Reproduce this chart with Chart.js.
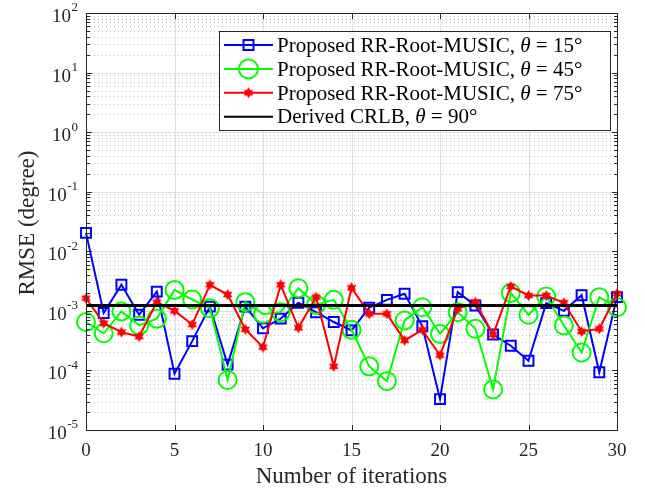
<!DOCTYPE html>
<html><head><meta charset="utf-8">
<script src="https://cdn.jsdelivr.net/npm/chart.js@4/dist/chart.umd.min.js"></script>
<style>html,body{margin:0;padding:0;background:#fff}canvas{display:block}</style>
</head><body>
<canvas id="c" width="645" height="493"></canvas>
<script>
// ---------- data ----------
const iterations = [0,1,2,3,4,5,6,7,8,9,10,11,12,13,14,15,16,17,18,19,20,21,22,23,24,25,26,27,28,29,30];
const rmse15 = [2.04e-2, 9.2e-4, 2.74e-3, 8.6e-4, 2.1e-3, 8.8e-5, 3.1e-4, 1.18e-3, 1.25e-4, 1.18e-3, 5.1e-4,
                7.4e-4, 1.37e-3, 9.5e-4, 6.5e-4, 4.7e-4, 1.13e-3, 1.53e-3, 1.94e-3, 5.5e-4, 3.3e-5,
                2.06e-3, 1.23e-3, 4.0e-4, 2.6e-4, 1.45e-4, 1.35e-3, 1.0e-3, 1.83e-3, 9.3e-5, 1.7e-3];
const rmse45 = [6.5e-4, 4.2e-4, 9.8e-4, 5.7e-4, 7.4e-4, 2.25e-3, 1.55e-3, 1.11e-3, 6.9e-5, 1.4e-3, 8.9e-4,
                9.5e-4, 2.4e-3, 1.27e-3, 1.53e-3, 4.8e-4, 1.17e-4, 6.6e-5, 6.9e-4, 1.15e-3, 4.1e-4,
                9.5e-4, 5.0e-4, 4.8e-5, 2.0e-3, 8.6e-4, 1.74e-3, 5.7e-4, 2.0e-4, 1.7e-3, 1.15e-3];
const rmse75 = [1.63e-3, 6.2e-4, 4.4e-4, 3.7e-4, 1.4e-3, 1.0e-3, 5.9e-4, 2.74e-3, 1.88e-3, 4.9e-4, 2.46e-4,
                2.74e-3, 5.2e-4, 1.7e-3, 1.17e-4, 2.44e-3, 8.9e-4, 8.9e-4, 3.2e-4, 4.8e-4, 1.8e-4,
                1.08e-3, 1.4e-3, 4.0e-4, 2.57e-3, 1.81e-3, 1.81e-3, 1.37e-3, 4.5e-4, 5.0e-4, 1.94e-3];
const crlb90 = [1.23e-3, 1.23e-3, 1.23e-3, 1.23e-3, 1.23e-3, 1.23e-3, 1.23e-3, 1.23e-3, 1.23e-3, 1.23e-3, 1.23e-3,
                1.23e-3, 1.23e-3, 1.23e-3, 1.23e-3, 1.23e-3, 1.23e-3, 1.23e-3, 1.23e-3, 1.23e-3, 1.23e-3,
                1.23e-3, 1.23e-3, 1.23e-3, 1.23e-3, 1.23e-3, 1.23e-3, 1.23e-3, 1.23e-3, 1.23e-3, 1.23e-3];
const seriesNames = ['Proposed RR-Root-MUSIC', 'Proposed RR-Root-MUSIC', 'Proposed RR-Root-MUSIC', 'Derived CRLB'];
const seriesAngles = ['15°', '45°', '75°', '90°'];
const xTickValues = [0, 5, 10, 15, 20, 25, 30];
const yTickExponents = [-5, -4, -3, -2, -1, 0, 1, 2];
const xTitle = 'Number of iterations';
const yTitle = 'RMSE (degree)';

// ---------- styling ----------
const FONT = '"Liberation Serif", "Times New Roman", serif';
const AXIS = '#262626';

function hexagram(r, color) {
  const s = Math.ceil(r * 2 + 2);
  const c = document.createElement('canvas');
  c.width = s; c.height = s;
  const g = c.getContext('2d');
  g.fillStyle = color;
  g.beginPath();
  for (let i = 0; i < 12; i++) {
    const a = -Math.PI / 2 + i * Math.PI / 6;
    const rr = (i % 2) ? r * 0.58 : r;
    g.lineTo(s / 2 + rr * Math.cos(a), s / 2 + rr * Math.sin(a));
  }
  g.closePath();
  g.fill();
  return c;
}
const redStar = hexagram(5.5, '#ff0000');

function pts(vals) { return iterations.map((x, i) => ({ x: x, y: vals[i] })); }

const datasets = [
  { data: pts(rmse15), borderColor: '#0000ff', borderWidth: 2, pointStyle: 'rect', pointRadius: 7,
    pointBorderWidth: 2, pointBorderColor: '#0000ff', pointBackgroundColor: 'rgba(0,0,0,0)', order: 4 },
  { data: pts(rmse45), borderColor: '#00ff00', borderWidth: 2, pointStyle: 'circle', pointRadius: 9,
    pointBorderWidth: 2, pointBorderColor: '#00ff00', pointBackgroundColor: 'rgba(0,0,0,0)', order: 3 },
  { data: pts(rmse75), borderColor: '#ff0000', borderWidth: 2, pointStyle: redStar, pointRadius: 6,
    pointBorderWidth: 0, pointBackgroundColor: '#ff0000', order: 2 },
  { data: pts(crlb90), borderColor: '#000000', borderWidth: 3, pointRadius: 0, order: 1 }
];
datasets.forEach((d, i) => {
  d.label = seriesNames[i] + ', θ = ' + seriesAngles[i];
  d.fill = false; d.tension = 0; d.clip = false; d.pointHoverRadius = d.pointRadius;
});

function line(ctx, x1, y1, x2, y2) { ctx.beginPath(); ctx.moveTo(x1, y1); ctx.lineTo(x2, y2); ctx.stroke(); }

const matlabAxes = {
  id: 'matlabAxes',
  beforeDatasetsDraw(chart) {
    const { ctx, chartArea: a, scales: { x, y } } = chart;
    ctx.save();
    ctx.lineWidth = 1;
    // minor dotted grid
    ctx.strokeStyle = '#c2c2c2';
    ctx.setLineDash([1, 3]);
    for (let e = yTickExponents[0]; e < yTickExponents[yTickExponents.length - 1]; e++) {
      for (let k = 2; k <= 9; k++) {
        const py = Math.round(y.getPixelForValue(k * Math.pow(10, e))) + 0.5;
        line(ctx, a.left, py, a.right, py);
      }
    }
    // major grid
    ctx.setLineDash([]);
    ctx.strokeStyle = '#dfdfdf';
    yTickExponents.forEach(e => {
      const py = Math.round(y.getPixelForValue(Math.pow(10, e))) + 0.5;
      line(ctx, a.left, py, a.right, py);
    });
    xTickValues.forEach(v => {
      const px = Math.round(x.getPixelForValue(v)) + 0.5;
      line(ctx, px, a.top, px, a.bottom);
    });
    ctx.restore();
  },
  afterDatasetsDraw(chart) {
    const { ctx, chartArea: a, scales: { x, y } } = chart;
    ctx.save();
    ctx.strokeStyle = AXIS;
    ctx.lineWidth = 1;
    const L = Math.round(a.left) + 0.5, R = Math.round(a.right) + 0.5;
    const T = Math.round(a.top) + 0.5, B = Math.round(a.bottom) + 0.5;
    ctx.strokeRect(L, T, R - L, B - T);
    // y ticks (inside, both sides)
    for (let e = yTickExponents[0]; e <= yTickExponents[yTickExponents.length - 1]; e++) {
      const py = Math.round(y.getPixelForValue(Math.pow(10, e))) + 0.5;
      line(ctx, L, py, L + 5.5, py); line(ctx, R, py, R - 5.5, py);
      if (e < yTickExponents[yTickExponents.length - 1]) {
        for (let k = 2; k <= 9; k++) {
          const q = Math.round(y.getPixelForValue(k * Math.pow(10, e))) + 0.5;
          line(ctx, L, q, L + 3.5, q); line(ctx, R, q, R - 3.5, q);
        }
      }
    }
    // x ticks
    xTickValues.forEach(v => {
      const px = Math.round(x.getPixelForValue(v)) + 0.5;
      line(ctx, px, B, px, B - 5.5); line(ctx, px, T, px, T + 5.5);
    });
    // tick labels
    ctx.fillStyle = AXIS;
    ctx.textAlign = 'center';
    ctx.textBaseline = 'alphabetic';
    ctx.font = '19px ' + FONT;
    xTickValues.forEach(v => ctx.fillText(String(v), x.getPixelForValue(v), 456));
    yTickExponents.forEach(e => {
      const py = y.getPixelForValue(Math.pow(10, e));
      ctx.font = '13px ' + FONT;
      ctx.textAlign = 'right';
      ctx.textBaseline = 'middle';
      const exp = String(e);
      const ew = ctx.measureText(exp).width;
      ctx.fillText(exp, 78, py - 5);
      ctx.font = '19px ' + FONT;
      ctx.fillText('10', 78 - ew - 0.5, py + 4);
    });
    // axis titles
    ctx.font = '23px ' + FONT;
    ctx.textAlign = 'center';
    ctx.textBaseline = 'alphabetic';
    ctx.fillText(xTitle, (a.left + a.right) / 2, 483);
    ctx.save();
    ctx.translate(34, 223);
    ctx.rotate(-Math.PI / 2);
    ctx.fillText(yTitle, 0, 0);
    ctx.restore();
    // legend
    const bx = 219.5, by = 31.5, bw = 391, bh = 99;
    ctx.fillStyle = '#ffffff';
    ctx.fillRect(bx, by, bw, bh);
    ctx.strokeStyle = AXIS;
    ctx.lineWidth = 1;
    ctx.strokeRect(bx, by, bw, bh);
    chart.data.datasets.forEach((d, i) => {
      const ly = 45 + i * 23.9;
      ctx.strokeStyle = d.borderColor;
      ctx.lineWidth = 2;
      line(ctx, 224, ly, 273, ly);
      const cx = 248.5;
      if (d.pointStyle === 'rect') {
        ctx.strokeRect(cx - 5, ly - 5, 10, 10);
      } else if (d.pointStyle === 'circle') {
        ctx.beginPath(); ctx.arc(cx, ly, 9.5, 0, Math.PI * 2); ctx.stroke();
      } else if (d.pointRadius > 0) {
        ctx.drawImage(d.pointStyle, cx - d.pointStyle.width / 2, ly - d.pointStyle.height / 2);
      }
      ctx.fillStyle = '#000000';
      ctx.textAlign = 'left';
      ctx.textBaseline = 'alphabetic';
      let tx = 277;
      const base = ly + 6.7;
      ctx.font = '21px ' + FONT;
      const pre = seriesNames[i] + ', ';
      ctx.fillText(pre, tx, base); tx += ctx.measureText(pre).width;
      ctx.font = 'italic 21px ' + FONT;
      ctx.fillText('θ', tx, base); tx += ctx.measureText('θ').width;
      ctx.font = '21px ' + FONT;
      const post = ' = ' + seriesAngles[i];
      ctx.fillText(post, tx, base);
    });
    ctx.restore();
  }
};

new Chart(document.getElementById('c'), {
  type: 'line',
  data: { datasets: datasets },
  options: {
    responsive: false,
    animation: false,
    devicePixelRatio: 1,
    layout: { padding: { top: 13, right: 28, left: 0, bottom: 0 } },
    plugins: { legend: { display: false }, tooltip: { enabled: false } },
    scales: {
      x: { type: 'linear', min: 0, max: 30, grid: { display: false }, border: { display: false },
           ticks: { display: false, stepSize: 5 }, afterFit: s => { s.height = 63; } },
      y: { type: 'logarithmic', min: 1e-5, max: 1e2, grid: { display: false }, border: { display: false },
           ticks: { display: false }, afterFit: s => { s.width = 86; } }
    }
  },
  plugins: [matlabAxes]
});
</script>
</body></html>
